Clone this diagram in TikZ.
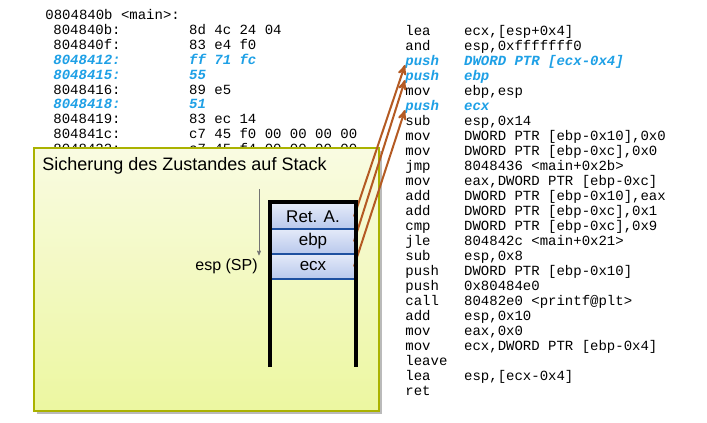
\documentclass[tikz,border=0pt]{standalone}
\usepackage{fontspec}
\setmainfont{Liberation Sans}
\setmonofont{Liberation Mono}
\usetikzlibrary{arrows,positioning,shadows}

\definecolor{asmblue}{RGB}{30,160,230}
\definecolor{pushbrown}{RGB}{180,90,35}
\definecolor{paneledge}{RGB}{170,178,0}
\definecolor{paneltop}{RGB}{249,251,226}
\definecolor{panelbottom}{RGB}{236,247,160}
\definecolor{celltop}{RGB}{228,234,249}
\definecolor{cellbottom}{RGB}{184,200,236}
\definecolor{cellline}{RGB}{30,80,160}

\newcommand{\addrcol}[1]{\makebox[9.7em][l]{#1}}
\newcommand{\mnemcol}[1]{\makebox[4.2em][l]{#1}}

\begin{document}
\begin{tikzpicture}[
                            x=0.75pt,
                            y=-0.75pt,
                            >=stealth',
                            semithick
                        ]
                        \tikzstyle{asm}=[anchor=base west,inner sep=0pt,font=\fontsize{10.5}{12}\ttfamily]
                        \tikzstyle{asmpush}=[asm,text=asmblue,font=\fontsize{10.5}{12}\ttfamily\bfseries\itshape]
                        \tikzstyle{panel}=[draw=paneledge,line width=1.1pt,top color=paneltop,bottom color=panelbottom,
                                           drop shadow={shadow xshift=2.5pt,shadow yshift=-2.5pt,fill=black!45,opacity=.6}]
                        \tikzstyle{cell}=[minimum width=61.5pt,minimum height=18.75pt,inner sep=0pt,outer sep=0pt,
                                          top color=celltop,bottom color=cellbottom,font=\fontsize{12.75}{14}\selectfont]
                        \tikzstyle{cellsep}=[draw=cellline,line width=0.8pt]
                        \tikzstyle{wall}=[draw=black,line width=2.4pt]
                        \tikzstyle{sparrow}=[->,draw=black!55,thin,shorten >=2pt]
                        \tikzstyle{pusharrow}=[->,draw=pushbrown,line width=1.5pt]

                        \useasboundingbox[fill=white] (0,0) rectangle (707,422);

                        % disassembly, left column
                        \node[asm]     (main) at (45,19)  {0804840b <main>:};
                        \node[asm]     (a1)   at (53,34)  {\addrcol{804840b:}8d 4c 24 04};
                        \node[asm]     (a2)   at (53,49)  {\addrcol{804840f:}83 e4 f0};
                        \node[asmpush] (a3)   at (53,64)  {\addrcol{8048412:}ff 71 fc};
                        \node[asmpush] (a4)   at (53,79)  {\addrcol{8048415:}55};
                        \node[asm]     (a5)   at (53,94)  {\addrcol{8048416:}89 e5};
                        \node[asmpush] (a6)   at (53,108) {\addrcol{8048418:}51};
                        \node[asm]     (a7)   at (53,123) {\addrcol{8048419:}83 ec 14};
                        \node[asm]     (a8)   at (53,138) {\addrcol{804841c:}c7 45 f0 00 00 00 00};
                        \node[asm]     (a9)   at (53,153) {\addrcol{8048423:}c7 45 f4 00 00 00 00};

                        % disassembly, right column
                        \node[asm]     (m1)      at (405,35)  {\mnemcol{lea}ecx,[esp+0x4]};
                        \node[asm]     (m2)      at (405,50)  {\mnemcol{and}esp,0xfffffff0};
                        \node[asmpush] (pushret) at (405,65)  {\mnemcol{push}DWORD PTR [ecx-0x4]};
                        \node[asmpush] (pushebp) at (405,80)  {\mnemcol{push}ebp};
                        \node[asm]     (m5)      at (405,95)  {\mnemcol{mov}ebp,esp};
                        \node[asmpush] (pushecx) at (405,110) {\mnemcol{push}ecx};
                        \node[asm]     (m7)      at (405,125) {\mnemcol{sub}esp,0x14};
                        \node[asm]     (m8)      at (405,140) {\mnemcol{mov}DWORD PTR [ebp-0x10],0x0};
                        \node[asm]     (m9)      at (405,155) {\mnemcol{mov}DWORD PTR [ebp-0xc],0x0};
                        \node[asm]     (m10)     at (405,170) {\mnemcol{jmp}8048436 <main+0x2b>};
                        \node[asm]     (m11)     at (405,185) {\mnemcol{mov}eax,DWORD PTR [ebp-0xc]};
                        \node[asm]     (m12)     at (405,200) {\mnemcol{add}DWORD PTR [ebp-0x10],eax};
                        \node[asm]     (m13)     at (405,215) {\mnemcol{add}DWORD PTR [ebp-0xc],0x1};
                        \node[asm]     (m14)     at (405,230) {\mnemcol{cmp}DWORD PTR [ebp-0xc],0x9};
                        \node[asm]     (m15)     at (405,245) {\mnemcol{jle}804842c <main+0x21>};
                        \node[asm]     (m16)     at (405,260) {\mnemcol{sub}esp,0x8};
                        \node[asm]     (m17)     at (405,275) {\mnemcol{push}DWORD PTR [ebp-0x10]};
                        \node[asm]     (m18)     at (405,290) {\mnemcol{push}0x80484e0};
                        \node[asm]     (m19)     at (405,305) {\mnemcol{call}80482e0 <printf@plt>};
                        \node[asm]     (m20)     at (405,320) {\mnemcol{add}esp,0x10};
                        \node[asm]     (m21)     at (405,335) {\mnemcol{mov}eax,0x0};
                        \node[asm]     (m22)     at (405,350) {\mnemcol{mov}ecx,DWORD PTR [ebp-0x4]};
                        \node[asm]     (m23)     at (405,365) {leave};
                        \node[asm]     (m24)     at (405,380) {\mnemcol{lea}esp,[ecx-0x4]};
                        \node[asm]     (m25)     at (405,395) {ret};

                        % panel with the stack
                        \draw[panel] (34,148) rectangle (379,411);
                        \node[anchor=base west,inner sep=0pt,font=\fontsize{13.5}{16}\selectfont]
                            (title) at (42,170) {Sicherung des Zustandes auf Stack};

                        \node[anchor=base east,inner sep=0pt,font=\fontsize{12}{14}\selectfont]
                            (esp) at (258,270) {esp (SP)};
                        \coordinate (sptop) at (259,189);
                        \draw[sparrow] (sptop) -- (sptop |- esp.north);

                        \node[cell]                  (retA) at (313,216.5) {Ret. A.};
                        \node[cell,below=0pt of retA] (ebp)  {ebp};
                        \node[cell,below=0pt of ebp]  (ecx)  {ecx};
                        \draw[cellsep] (retA.south west) -- (retA.south east);
                        \draw[cellsep] (ebp.south west)  -- (ebp.south east);
                        \draw[cellsep] (ecx.south west)  -- (ecx.south east);

                        \path
                        (retA.east) edge[pusharrow] (pushret.base west)
                        (ebp.east)  edge[pusharrow] (pushebp.base west)
                        (ecx.east)  edge[pusharrow] (pushecx.base west)
                        ;

                        \draw[wall] (270,367) -- (270,202) -- (356,202) -- (356,367);
                    \end{tikzpicture}
\end{document}
